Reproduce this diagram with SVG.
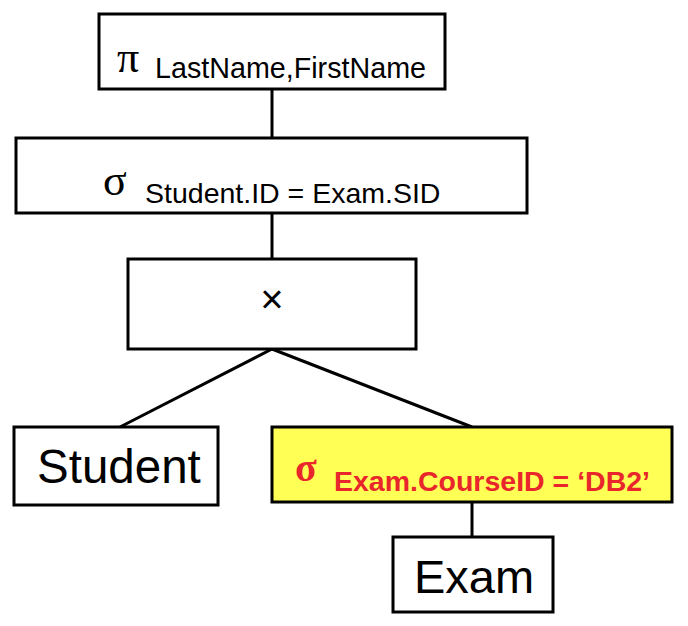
<svg xmlns="http://www.w3.org/2000/svg" width="688" height="626" viewBox="0 0 688 626">
<style>
.box{fill:#fff;stroke:#000;stroke-width:3}
.hl{fill:#ffff55;stroke:#000;stroke-width:3}
.edge{stroke:#000;stroke-width:3;fill:none}
.t{font-family:"Liberation Sans",Arial,sans-serif;fill:#000}
.g{font-family:"Liberation Serif","DejaVu Serif",serif;fill:#000}
.red{fill:#e8262b}
</style>
<rect width="688" height="626" fill="#fff"/>
<g id="connectors">
<line class="edge" x1="272" y1="89" x2="272" y2="138"/>
<line class="edge" x1="272" y1="213" x2="272" y2="259"/>
<line class="edge" x1="272" y1="349" x2="120" y2="427"/>
<line class="edge" x1="272" y1="349" x2="472" y2="427"/>
<line class="edge" x1="472" y1="502" x2="472" y2="537"/>
</g>
<g id="project">
<rect class="box" x="99" y="14" width="346" height="75"/>
<text class="g" x="117" y="72" font-size="44">π</text>
<text class="t" x="155" y="78" font-size="28.7">LastName,FirstName</text>
</g>
<g id="select-join">
<rect class="box" x="16" y="138" width="511" height="75"/>
<text class="g" x="103" y="195" font-size="44">σ</text>
<text class="t" x="145" y="203" font-size="28.5">Student.ID = Exam.SID</text>
</g>
<g id="cross">
<rect class="box" x="128" y="259" width="288" height="90"/>
<text class="t" x="272" y="313" font-size="40" text-anchor="middle">×</text>
</g>
<g id="student">
<rect class="box" x="14" y="427" width="204" height="78"/>
<text class="t" x="37" y="483" font-size="47.5">Student</text>
</g>
<g id="select-course">
<rect class="hl" x="272" y="427" width="400" height="75"/>
<text class="g red" x="295" y="481" font-size="40" font-weight="bold">σ</text>
<text class="t red" x="334" y="491" font-size="28.5" font-weight="bold">Exam.CourseID = ‘DB2’</text>
</g>
<g id="exam">
<rect class="box" x="393" y="537" width="160" height="75"/>
<text class="t" x="414" y="593" font-size="47">Exam</text>
</g>
</svg>
